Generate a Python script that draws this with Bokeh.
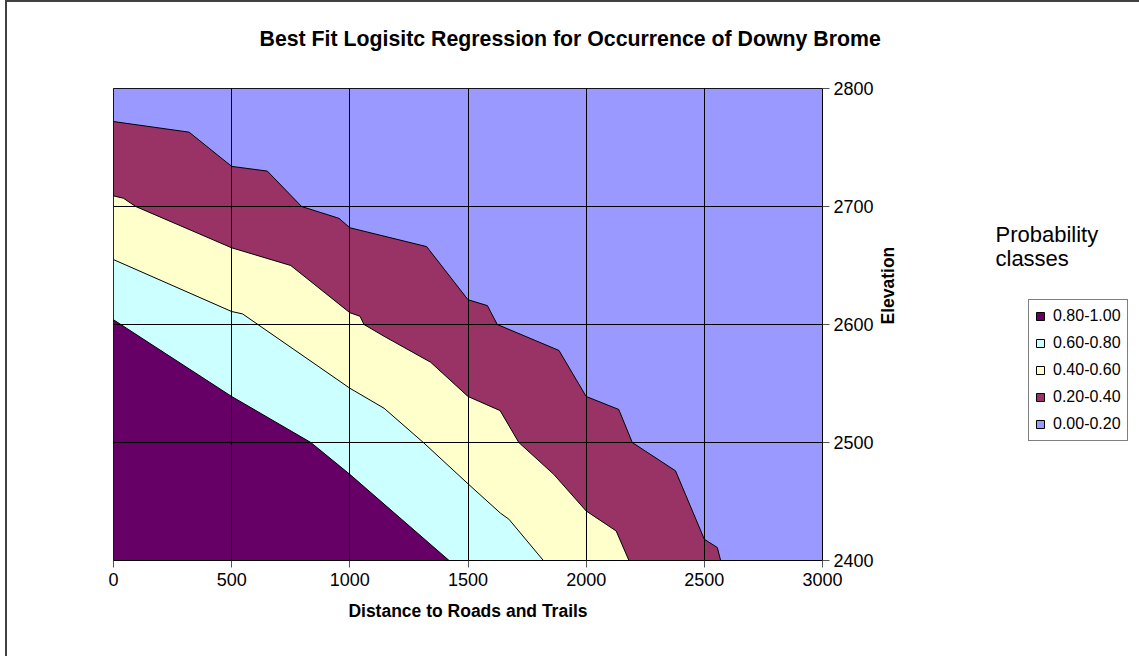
import numpy as np
from bokeh.plotting import figure
from bokeh.models import Label, Legend, LegendItem, FixedTicker, Title
from bokeh.layouts import row
from bokeh.embed import file_html
from bokeh.resources import INLINE
from math import pi

# Contour boundaries (distance, elevation)
b20_x = [0, 320, 500, 651, 796, 954, 1000, 1325, 1500, 1582, 1624, 1885, 2000, 2138, 2195, 2378, 2500, 2555, 2569]
b20_y = [2772, 2763, 2734, 2730, 2700, 2690, 2682, 2666, 2621, 2616, 2600, 2578, 2539, 2528, 2500, 2476, 2418, 2411, 2400]

b40_x = [0, 42, 94, 500, 750, 1000, 1043, 1060, 1145, 1342, 1500, 1636, 1715, 1863, 2000, 2127, 2181]
b40_y = [2709, 2707, 2700, 2665, 2650, 2610, 2607, 2600, 2590, 2568, 2539, 2527, 2500, 2473, 2442, 2425, 2400]

b60_x = [0, 500, 546, 1000, 1145, 1311, 1500, 1638, 1673, 1819]
b60_y = [2655, 2611, 2609, 2546, 2529, 2500, 2465, 2440, 2435, 2400]

b80_x = [0, 500, 835, 1000, 1420]
b80_y = [2604, 2539, 2500, 2473, 2400]

classes = ["0.80-1.00", "0.60-0.80", "0.40-0.60", "0.20-0.40", "0.00-0.20"]
colors = ["#660066", "#CCFFFF", "#FFFFCC", "#993366", "#9999FF"]

x_ticks = [0, 500, 1000, 1500, 2000, 2500, 3000]
y_ticks = [2400, 2500, 2600, 2700, 2800]
x_min, x_max = 0, 3000
y_min, y_max = 2400, 2800

FONT = "Liberation Sans"
H = 654
W1 = 953
FRAME_W, FRAME_H = 709, 472

p = figure(width=W1, height=H, x_range=(x_min, x_max), y_range=(y_min, y_max),
           output_backend="svg", toolbar_location=None,
           x_axis_location="below", y_axis_location="right",
           min_border_left=106, min_border_right=W1 - 106 - FRAME_W,
           min_border_top=86, min_border_bottom=H - 86 - FRAME_H)
p.background_fill_color = "white"
p.outline_line_color = "black"
p.outline_line_width = 1

# spacer panel between the frame and the chart title
p.add_layout(Title(text=" ", text_font_size="1px", standoff=35), "above")
p.title = Title(text="Best Fit Logisitc Regression for Occurrence of Downy Brome",
                align="left", offset=146, standoff=0,
                text_font=FONT, text_font_size="21.3px", text_font_style="bold", text_color="black")

def region(bx, by):
    xs = [x_min] + list(bx) + [x_min]
    ys = [y_min] + list(by) + [y_min]
    return xs, ys

renderers = {}
renderers["0.00-0.20"] = p.patch([x_min, x_max, x_max, x_min], [y_min, y_min, y_max, y_max],
                                 fill_color=colors[4], line_color="black", line_width=1)
for name, bx, by, col in [("0.20-0.40", b20_x, b20_y, colors[3]),
                          ("0.40-0.60", b40_x, b40_y, colors[2]),
                          ("0.60-0.80", b60_x, b60_y, colors[1]),
                          ("0.80-1.00", b80_x, b80_y, colors[0])]:
    xs, ys = region(bx, by)
    renderers[name] = p.patch(xs, ys, fill_color=col, line_color="black", line_width=1)

p.xgrid.ticker = FixedTicker(ticks=x_ticks)
p.ygrid.ticker = FixedTicker(ticks=y_ticks)
for g in (p.xgrid, p.ygrid):
    g.grid_line_color = "black"
    g.grid_line_width = 1
    g.level = "overlay"

xa = p.xaxis[0]
xa.ticker = FixedTicker(ticks=x_ticks)
ya = p.yaxis[0]
ya.ticker = FixedTicker(ticks=y_ticks)
for ax in (xa, ya):
    ax.axis_line_color = "black"
    ax.major_tick_line_color = "#555555"
    ax.major_tick_out = 7
    ax.major_tick_in = 0
    ax.minor_tick_line_color = None
    ax.major_label_text_font = FONT
    ax.major_label_text_font_size = "18px"
    ax.major_label_text_color = "black"
    ax.axis_label_text_font = FONT
    ax.axis_label_text_font_size = "17.5px"
    ax.axis_label_text_font_style = "bold"
    ax.axis_label_text_color = "black"
xa.major_label_standoff = 5
ya.major_label_standoff = 4
xa.axis_label = "Distance to Roads and Trails"
xa.axis_label_standoff = 12
ya.axis_label = "Elevation"
ya.axis_label_standoff = 11
ya.axis_label_orientation = pi / 2

# Right-hand panel with the legend (its frame is aligned with the main frame: y 88..560)
W2 = 179
p2 = figure(width=W2, height=H, x_range=(0, W2), y_range=(0, FRAME_H),
            output_backend="svg", toolbar_location=None,
            x_axis_type=None, y_axis_type=None, min_border=0)
p2.outline_line_color = None
p2.xgrid.visible = False
p2.ygrid.visible = False

legend_renderers = {}
for c, col in zip(classes, colors):
    legend_renderers[c] = p2.patch(np.array([np.nan]), np.array([np.nan]),
                                   fill_color=col, line_color="black", line_width=1)

def qx(px):
    return px - 960

def qy(py):
    return 560 - py

p2.add_layout(Label(x=qx(995), y=qy(234), text="Probability",
                    text_font=FONT, text_font_size="22px", text_color="black",
                    text_align="left", text_baseline="middle"))
p2.add_layout(Label(x=qx(995), y=qy(258), text="classes",
                    text_font=FONT, text_font_size="22px", text_color="black",
                    text_align="left", text_baseline="middle"))

items = [LegendItem(label=c, renderers=[legend_renderers[c]]) for c in classes]
legend = Legend(items=items, location=(qx(1028), qy(441)), orientation="vertical",
                label_text_font=FONT, label_text_font_size="16px", label_text_color="black",
                glyph_width=10, glyph_height=10, label_height=20, spacing=7,
                padding=6, margin=0, border_line_color="black", border_line_width=1,
                background_fill_alpha=1.0, label_standoff=8)
p2.add_layout(legend, "center")

layout = row(p, p2, styles={"margin-left": "5px", "border-left": "2px solid #404040",
                            "border-top": "2px solid #404040"})

open("out.html", "w").write(file_html(layout, INLINE))
